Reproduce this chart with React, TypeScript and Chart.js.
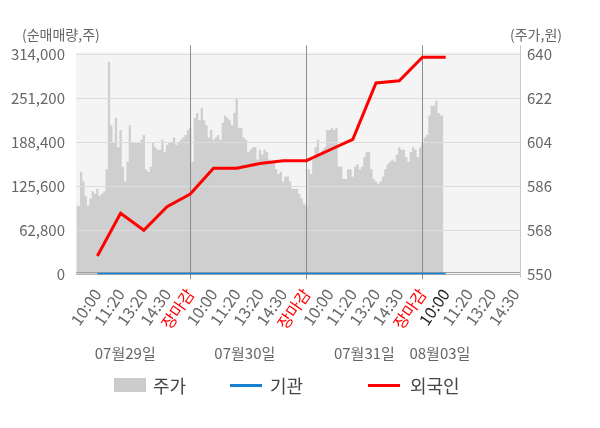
import React, { useEffect, useRef } from "react";
import { Chart, registerables } from "chart.js";

Chart.register(...registerables);

// ---------- data ----------
const tickSlots = [1, 2, 3, 4, 5, 6, 7, 8, 9, 10, 11, 12, 13, 14, 15, 16, 17, 18, 19];
const tickLabels = [
  "10:00", "11:20", "13:20", "14:30", "장마감",
  "10:00", "11:20", "13:20", "14:30", "장마감",
  "10:00", "11:20", "13:20", "14:30", "장마감",
  "10:00", "11:20", "13:20", "14:30",
];
const currentTickSlot = 16;
const dateLabels = ["07월29일", "07월30일", "07월31일", "08월03일"];
const dateSlots = [2.2, 7.35, 12.5, 15.75];

const flowSlots = [1, 2, 3, 4, 5, 6, 7, 8, 9, 10, 11, 12, 13, 14, 15, 16];
const foreignNet = [
  26100, 87100, 62800, 96500, 114600,
  151300, 151300, 158100, 162100, 162100,
  177400, 192700, 273000, 276300, 309700,
  309700,
];
const institutionNet = [0, 0, 0, 0, 0, 0, 0, 0, 0, 0, 0, 0, 0, 0, 0, 0];

const priceSlotStep = 0.1;
const prices = [
  // 07/29
  578, 578, 592, 588, 582, 578, 581, 584, 583, 585,
  582, 583, 584, 593, 637, 611, 604, 614, 602, 609,
  594, 588, 596, 611, 604, 604, 604, 604, 605, 607,
  593, 592, 594, 604, 602, 601, 601, 605, 600, 603,
  604, 604, 606, 603, 604, 605, 606, 607, 609, 610,
  // 07/30
  596, 614, 616, 613, 618, 613, 611, 606, 609, 605,
  606, 607, 605, 612, 615, 614, 613, 611, 616, 622,
  610, 610, 606, 605, 600, 601, 602, 602, 597, 601,
  599, 601, 600, 597, 596, 596, 593, 591, 592, 588,
  590, 590, 588, 585, 585, 585, 583, 581, 579, 578,
  // 07/31
  593, 591, 597, 602, 605, 599, 601, 602, 609, 609,
  610, 609, 610, 594, 594, 589, 589, 593, 593, 590,
  594, 595, 593, 594, 598, 600, 600, 593, 589, 588,
  587, 588, 590, 593, 595, 596, 597, 596, 599, 602,
  601, 601, 598, 596, 600, 602, 601, 598, 602, 604,
  // 08/03
  606, 607, 615, 619, 619, 621, 616, 615, 615,
];

const leftTicks = { min: 0, max: 314000, step: 62800 };
const rightTicks = { min: 550, max: 640, step: 18 };

const FONT = "'Noto Sans CJK KR', 'Noto Sans', sans-serif";

const decorPlugin = {
  id: "decor",
  beforeDatasetsDraw(chart: any) {
    const { ctx, chartArea } = chart;
    ctx.save();
    ctx.fillStyle = "#f4f4f4";
    ctx.fillRect(chartArea.left, chartArea.top - 2, chartArea.right - chartArea.left, chartArea.bottom - chartArea.top + 2);
    ctx.restore();
  },
  afterDatasetDraw(chart: any, args: any) {
    if (args.index !== 0) return;
    const { ctx, chartArea, scales } = chart;
    const y = scales.y;
    const x = scales.x;
    ctx.save();
    ctx.lineWidth = 1;
    ctx.strokeStyle = "#dcdcdc";
    y.ticks.forEach((t: any) => {
      if (t.value === leftTicks.min) return;
      const py = Math.round(y.getPixelForValue(t.value)) + 0.5;
      ctx.beginPath();
      ctx.moveTo(chartArea.left, py);
      ctx.lineTo(chartArea.right, py);
      ctx.stroke();
    });
    ctx.strokeStyle = "#a0a0a0";
    const pb = Math.round(chartArea.bottom) - 1.5;
    ctx.beginPath();
    ctx.moveTo(chartArea.left, pb);
    ctx.lineTo(chartArea.right, pb);
    ctx.stroke();
    ctx.strokeStyle = "#8c8c8c";
    tickSlots.forEach((s, i) => {
      if (tickLabels[i] !== "장마감") return;
      const px = Math.round(x.getPixelForValue(s)) + 0.5;
      ctx.beginPath();
      ctx.moveTo(px, chartArea.top - 9);
      ctx.lineTo(px, chartArea.bottom + 5);
      ctx.stroke();
    });
    ctx.strokeStyle = "#c8c8c8";
    const pr = Math.round(chartArea.right) + 0.5;
    ctx.beginPath();
    ctx.moveTo(pr, chartArea.top - 9);
    ctx.lineTo(pr, chartArea.bottom + 3);
    ctx.stroke();
    ctx.restore();
  },
  afterDraw(chart: any) {
    const { ctx, scales } = chart;
    const x = scales.x;
    ctx.save();
    ctx.font = `15px ${FONT}`;
    ctx.fillStyle = "#666";
    ctx.textAlign = "center";
    ctx.textBaseline = "middle";
    dateLabels.forEach((d, i) => {
      ctx.fillText(d, x.getPixelForValue(dateSlots[i]), 353);
    });
    ctx.restore();
  },
};

export default function App() {
  const ref = useRef<HTMLCanvasElement | null>(null);

  useEffect(() => {
    if (!ref.current) return;
    Chart.defaults.font.family = FONT;
    const chart = new Chart(ref.current, {
      type: "line",
      data: {
        datasets: [
          {
            label: "주가",
            data: prices.map((p, i) => ({ x: (i + 1) * priceSlotStep, y: p })),
            yAxisID: "y1",
            xAxisID: "x",
            fill: "start",
            backgroundColor: "#cfcfcf",
            borderWidth: 0,
            borderColor: "rgba(0,0,0,0)",
            pointRadius: 0,
            stepped: "middle",
            order: 3,
          },
          {
            label: "기관",
            data: institutionNet.map((v, i) => ({ x: flowSlots[i], y: v })),
            yAxisID: "y",
            xAxisID: "x",
            borderColor: "#1780d0",
            borderWidth: 3,
            pointRadius: 0,
            fill: false,
            order: 2,
          },
          {
            label: "외국인",
            data: foreignNet.map((v, i) => ({ x: flowSlots[i], y: v })),
            yAxisID: "y",
            xAxisID: "x",
            borderColor: "#ff0000",
            borderWidth: 3,
            pointRadius: 0,
            fill: false,
            order: 1,
          },
        ],
      } as any,
      options: {
        animation: false,
        responsive: false,
        events: [],
        layout: { padding: { top: 54.3, left: 0, right: 0, bottom: 0 } },
        plugins: { legend: { display: false }, tooltip: { enabled: false } },
        scales: {
          x: {
            type: "linear",
            position: "bottom",
            min: 0.08,
            max: 19.2,
            grid: { display: false, drawTicks: true, tickLength: 8 },
            border: { display: true, color: "#999" },
            afterBuildTicks: (scale: any) => {
              scale.ticks = tickSlots.map((v) => ({ value: v }));
            },
            afterFit: (scale: any) => {
              scale.height = 428 - 274.3;
            },
            ticks: {
              autoSkip: false,
              maxRotation: 55,
              minRotation: 55,
              padding: 3,
              font: { size: 16, family: FONT },
              color: (c: any) => {
                const v = c.tick ? c.tick.value : 0;
                const idx = tickSlots.indexOf(v);
                if (tickLabels[idx] === "장마감") return "#ff0000";
                if (v === currentTickSlot) return "#222";
                return "#666";
              },
              callback: (v: any) => {
                const idx = tickSlots.indexOf(v);
                return idx >= 0 ? tickLabels[idx] : "";
              },
            },
          },
          y: {
            type: "linear",
            position: "left",
            min: leftTicks.min,
            max: leftTicks.max,
            grid: { display: false, drawTicks: false },
            border: { display: true, color: "#999" },
            afterFit: (scale: any) => {
              scale.width = 76;
            },
            ticks: {
              stepSize: leftTicks.step,
              padding: 11,
              color: "#666",
              font: { size: 15, family: FONT },
              callback: (v: any) => Number(v).toLocaleString("en-US"),
            },
          },
          y1: {
            type: "linear",
            position: "right",
            min: rightTicks.min,
            max: rightTicks.max,
            grid: { display: false, drawTicks: false },
            border: { display: true, color: "#c8c8c8" },
            afterFit: (scale: any) => {
              scale.width = 80;
            },
            ticks: {
              stepSize: rightTicks.step,
              padding: 7,
              color: "#666",
              font: { size: 15, family: FONT },
            },
          },
        },
      } as any,
      plugins: [decorPlugin],
    });
    return () => chart.destroy();
  }, []);

  const textStyle: React.CSSProperties = {
    position: "absolute",
    fontFamily: FONT,
    color: "#444",
    fontSize: 18,
    lineHeight: "20px",
    whiteSpace: "nowrap",
  };

  return (
    <div style={{ position: "absolute", left: 0, top: 0, width: 600, height: 428, background: "#fff", overflow: "hidden" }}>
      <canvas ref={ref} width={600} height={428} style={{ position: "absolute", left: 0, top: 0, width: 600, height: 428 }} />
      <div style={{ ...textStyle, left: 22, top: 24, fontSize: 14, color: "#666" }}>(순매매량,주)</div>
      <div style={{ ...textStyle, left: 510, top: 24, fontSize: 14, color: "#666" }}>(주가,원)</div>
      <div style={{ position: "absolute", left: 114, top: 378, width: 32, height: 14, background: "#cccccc" }} />
      <div style={{ ...textStyle, left: 153, top: 375 }}>주가</div>
      <div style={{ position: "absolute", left: 230, top: 384, width: 32, height: 3, background: "#1780d0" }} />
      <div style={{ ...textStyle, left: 270, top: 375 }}>기관</div>
      <div style={{ position: "absolute", left: 368, top: 384, width: 32, height: 3, background: "#ff0000" }} />
      <div style={{ ...textStyle, left: 410, top: 375 }}>외국인</div>
    </div>
  );
}
